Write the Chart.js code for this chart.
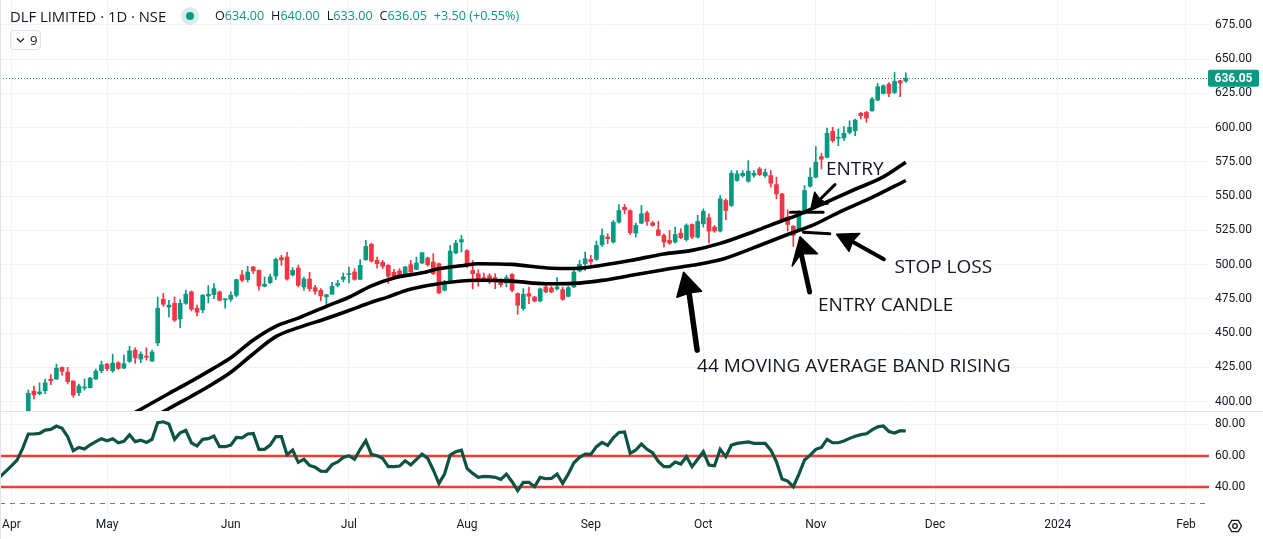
<!DOCTYPE html>
<html><head><meta charset="utf-8">
<script src="https://cdn.jsdelivr.net/npm/chart.js@4.4.1/dist/chart.umd.min.js"></script>
<style>
html,body{margin:0;padding:0;background:#fff;}
#wrap{position:relative;width:1263px;height:539px;overflow:hidden;font-family:'Open Sans',Roboto,sans-serif;color:#131722;}
#c{position:absolute;left:0;top:0;}
#title{position:absolute;left:10px;top:6px;font-size:14.8px;line-height:20px;white-space:nowrap;}
#dot{position:absolute;left:181px;top:7px;width:18px;height:18px;border-radius:50%;background:rgba(8,153,129,0.16);}
#dot span{position:absolute;left:5px;top:5px;width:8px;height:8px;border-radius:50%;background:#089981;}
#ohlc{position:absolute;left:215px;top:7px;font-size:12.6px;line-height:18px;white-space:nowrap;}
#ohlc .k{color:#131722;}
#ohlc .v{color:#089981;margin-right:7px;}
#ind{position:absolute;left:10px;top:30px;width:31px;height:20px;border:1px solid #e0e3eb;border-radius:4px;box-sizing:border-box;font-size:13px;line-height:18px;}
#ind svg{position:absolute;left:5px;top:6px;}
#ind span{position:absolute;left:19px;top:0px;}
</style></head>
<body>
<div id="wrap">
<canvas id="c" width="1263" height="539"></canvas>
<div id="title">DLF LIMITED · 1D · NSE</div>
<div id="dot"><span></span></div>
<div id="ohlc"></div>
<div id="ind"><svg width="9" height="7" viewBox="0 0 9 7"><path d="M1 1.5 L4.5 5 L8 1.5" fill="none" stroke="#131722" stroke-width="1.2"/></svg><span>9</span></div>
</div>
<script>
// ---------- DATA ----------
const firstIdx = 3; // trading-day index of first visible candle (Apr 3 = 0)
const opens = [
392,407.8,405.8,408.0,416.5,416.5,425.0,421.6,415.1,406.6,
410.0,410.2,416.5,422.6,427.4,422.6,428.4,424.5,429.4,437.6,
431.1,433.0,429.6,442.9,474.7,469.1,471.8,460.4,471.8,480.1,
468.2,467.0,477.1,478.2,480.1,474.3,474.7,477.7,492.5,489.1,
498.3,495.8,484.2,486.9,491.7,505.1,505.6,492.5,497.5,483.7,
489.5,483.2,481.3,476.5,478.4,484.9,489.3,492.7,494.6,489.3,
503.6,514.8,503.1,501.7,499.5,494.4,495.4,493.4,500.0,496.6,
501.2,504.8,501.9,500.7,481.3,488.1,508.5,516.5,510.2,495.8,
493.4,490.5,491.9,490.5,488.6,486.6,492.9,478.9,467.9,478.9,
476.4,473.5,483.7,483.0,482.3,481.8,476.9,483.7,495.4,500.7,
503.8,503.8,514.5,520.1,516.5,531.0,541.9,539.5,523.0,530.3,
537.8,530.5,525.4,521.3,517.7,516.5,523.0,518.2,529.3,520.1,
529.8,534.2,527.4,524.5,546.8,543.2,561.4,564.8,560.9,565.2,
569.8,564.8,565.0,558.4,551.6,534.7,527.9,525.4,538.3,557.2,
563.8,578.8,578.3,597.3,592.2,592.4,596.5,597.7,610.4,611.1,
612.3,620.1,624.9,631.7,625.6,634.2,634.0];
const highs = [
408.5,411.4,413.8,416.5,419.7,427.4,425.4,425.0,415.3,412.9,
416.5,417.8,423.8,429.6,427.9,434.7,429.1,434.0,440.5,439.3,
436.4,439.3,437.6,476.4,479.1,474.0,476.4,474.5,481.3,480.8,
470.4,478.2,484.7,486.1,480.8,475.2,480.1,489.5,495.8,498.8,
498.8,496.3,491.0,493.0,504.8,506.8,508.9,497.8,499.7,491.0,
494.4,484.9,482.5,478.4,487.1,488.6,493.9,498.3,497.1,503.6,
517.7,515.7,505.5,503.1,500.0,496.6,497.1,498.8,503.1,505.5,
509.0,505.5,508.0,501.2,488.6,514.0,517.7,521.3,510.9,503.1,
496.3,493.9,493.4,493.4,489.8,492.2,493.4,479.4,482.5,483.7,
476.9,483.0,484.9,484.2,490.5,483.7,484.2,495.8,503.1,509.2,
506.8,517.2,526.2,522.5,532.2,543.9,543.9,540.0,530.3,543.2,
539.0,531.7,531.5,522.5,525.0,527.4,526.2,529.8,529.8,536.0,
540.7,537.1,528.6,550.4,548.0,568.6,568.6,568.6,575.9,568.6,
571.1,569.8,568.6,563.8,552.1,540.0,528.6,539.5,557.7,570.6,
586.1,581.3,599.7,600.2,599.0,600.7,605.0,606.2,611.1,611.8,
622.0,632.2,631.2,632.9,640.2,634.6,640.0];
const lows = [
390,402.0,404.9,405.8,412.4,416.3,419.4,412.9,403.2,404.4,
408.5,410.0,416.3,421.1,422.6,421.4,423.6,424.0,428.7,427.9,
428.4,430.3,429.4,440.8,469.6,461.9,458.5,453.9,471.1,466.2,
462.6,464.8,472.1,475.2,473.5,468.2,473.3,476.5,487.4,487.4,
493.4,481.3,483.7,486.2,489.1,499.5,488.6,491.7,483.7,481.3,
480.6,478.4,473.5,470.4,478.4,483.7,487.4,486.6,488.6,489.1,
503.1,501.9,497.5,497.1,486.2,489.8,490.5,492.7,492.9,496.3,
500.7,498.8,492.7,478.9,480.8,487.4,508.0,509.2,497.8,482.3,
484.2,488.1,486.1,482.5,483.7,483.7,480.1,463.8,466.7,471.6,
472.8,472.8,479.4,479.4,481.3,474.0,476.4,483.2,494.6,495.8,
500.2,503.1,513.3,515.3,515.7,530.3,537.1,522.0,520.1,529.8,
528.6,527.9,521.1,512.8,514.8,515.7,518.9,517.2,518.9,519.3,
527.4,515.7,523.5,523.8,532.7,542.4,560.9,563.8,560.1,563.8,
565.0,563.8,556.5,548.0,531.0,524.5,513.3,524.5,536.6,556.5,
563.3,569.8,577.8,589.3,586.8,590.5,595.3,594.1,606.2,603.8,
611.8,619.6,624.4,622.5,624.9,622.5,633.0];
const closes = [
406.1,404.9,407.1,413.8,415.3,424.5,422.1,414.6,404.9,411.4,
410.7,417.2,422.3,426.9,424.0,428.2,424.3,427.7,437.1,432.0,
434.7,432.5,436.2,468.2,471.1,470.4,459.5,471.8,478.4,467.5,
465.3,477.7,478.4,482.5,474.0,474.7,477.7,489.0,488.6,494.6,
495.4,484.5,485.7,491.0,503.9,503.4,489.5,495.8,484.9,489.5,
482.5,480.6,477.2,478.0,484.2,486.2,491.0,493.4,489.3,499.5,
513.3,502.6,500.7,498.8,491.5,491.5,492.2,498.3,494.6,501.2,
508.7,500.0,493.4,479.4,487.4,509.9,515.7,518.3,499.2,493.4,
487.4,488.6,487.8,487.4,485.4,490.5,481.3,470.4,478.4,476.9,
473.5,482.3,480.1,480.1,483.7,474.7,483.2,494.6,500.2,504.3,
502.1,514.0,521.3,518.9,531.0,539.5,540.0,523.3,528.6,537.1,
531.5,528.6,521.3,516.5,515.7,522.0,519.6,528.6,520.1,531.5,
539.0,524.5,524.5,548.0,539.5,566.7,566.2,566.7,568.2,566.7,
565.7,567.4,559.4,551.6,532.2,529.3,521.3,535.9,554.1,563.8,
574.7,576.9,595.8,590.5,592.7,595.8,600.2,605.5,608.7,607.0,
620.8,629.8,630.5,624.9,633.7,632.55,636.05];

// 44 moving-average band (upper = highs, lower = lows)
const maHiIdx  = [18,23,28,32,36,39,43,47,51,56,60,64,68,73,76,80,83,89,96,100,105,110,116,121,126,132,137,140,144,150,155,159];
const maHiVals = [383,394.5,406,415,424.5,432,445,455,461,469.6,476.2,484.5,490.3,494,497,499.2,500.7,500.2,497.4,497.2,499.6,503,507.8,510.4,515.5,524.2,532,536.5,544,555,564,574.7];
const maLoIdx  = [23,28,32,36,39,43,47,51,56,60,64,67,70,74,80,83,89,95,100,105,110,116,121,126,132,138,143,147,153,159];
const maLoVals = [383,395,404,413.5,421.5,435,447.5,454,460.7,466.5,472.5,476.5,481,484.8,488.1,488.6,488,486,486.3,488.5,492,496.3,499.5,503.5,512.4,522,529.8,538,549,561.4];

// RSI, one value per trading day starting at index -2
const rsiFirstIdx = -2;
const rsiVals = [
46.6,50.0,53.5,57.2,64.7,
73.9,73.9,74.3,76.4,76.8,79.0,77.5,72.2,63.2,65.3,
64.3,67.0,69.0,70.9,69.6,70.9,68.3,69.2,73.4,69.0,
70.0,68.5,70.5,81.1,81.7,80.3,70.5,74.7,76.2,68.3,
66.2,70.5,70.9,72.6,65.8,65.8,66.8,71.7,71.5,73.9,
74.3,64.1,64.1,66.8,72.2,72.2,60.6,63.6,55.8,57.7,
53.8,52.6,50.2,50.0,54.3,56.0,58.9,60.0,57.7,64.1,
69.6,60.9,60.0,58.3,53.0,53.0,53.4,56.8,54.1,57.7,
61.1,58.3,50.9,42.3,48.3,60.4,62.6,63.6,51.9,48.7,
46.2,46.8,46.6,46.2,44.9,48.3,43.4,37.7,43.0,43.0,
40.2,46.2,45.3,45.5,48.3,42.3,48.3,55.5,59.0,61.1,
60.9,65.8,68.5,66.6,71.5,74.9,75.2,61.5,63.6,67.5,
64.1,61.9,56.4,53.0,53.0,56.0,54.7,59.4,53.0,57.7,
62.6,54.1,53.6,64.1,59.4,66.8,67.9,68.4,68.8,67.9,
67.9,67.9,63.6,56.2,45.1,43.8,40.2,48.3,57.3,60.4,
64.1,65.3,70.5,68.3,68.3,69.4,71.1,72.5,73.5,74.0,
76.5,78.5,79.0,75.5,74.5,76.0,75.8];
const rsiLevels = [60, 40, 30];

// axes
const monthTickIdx = [0,17,39,60,81,103,123,143,164.2,186,208.8];
const monthTickLabels = ['Apr','May','Jun','Jul','Aug','Sep','Oct','Nov','Dec','2024','Feb'];
const priceTicks = [400,425,450,475,500,525,550,575,600,625,650,675];
const rsiTicks = [40,60,80];
const xRange = [-2.03, 212.9];
const priceRange = [393.2, 693.1];
const rsiRange = [23.4, 88.6];

// annotations (in bar-index / price space)
const annotTexts = [
  {t:'ENTRY', i:144.8, p:569.1},
  {t:'STOP LOSS', i:157.0, p:497.6},
  {t:'ENTRY CANDLE', i:143.4, p:469.8},
  {t:'44 MOVING AVERAGE BAND RISING', i:121.9, p:425.3}
];
const annotLines = [
  {pts:[[146.4,558.4],[143.6,547.0]], w:3},
  {pts:[[138.5,538.3],[144.3,538.3]], w:3},
  {pts:[[140.8,523.7],[145.5,522.6]], w:3},
  {pts:[[149.6,516.5],[155.1,503.9]], w:4},
  {pts:[[120.5,478.5],[121.9,437.6]], w:5.5},
  {pts:[[140.4,508.0],[141.9,480.0]], w:5}
];
const annotHeads = [
  [[142.2,541.9],[142.8,552.8],[143.7,547.6],[145.2,544.4]],
  [[146.7,522.1],[150.8,522.8],[149.6,517.5],[148.9,509.7]],
  [[119.5,494.4],[118.3,476.2],[120.6,479.5],[122.7,480.6]],
  [[140.2,520.3],[138.8,499.0],[140.4,508.0],[143.3,508.0]]
];

// ---------- BUILD ----------
const GREEN = '#089981', RED = '#f23645';
const candleIdx = opens.map((_, k) => firstIdx + k);
const candleColors = candleIdx.map((_, k) => closes[k] >= opens[k] ? GREEN : RED);
const bodyData = candleIdx.map((x, k) => ({x, y: [opens[k], closes[k]]}));
const wickData = candleIdx.map((x, k) => ({x, y: [lows[k], highs[k]]}));
const maHiData = maHiIdx.map((x, k) => ({x, y: maHiVals[k]}));
const maLoData = maLoIdx.map((x, k) => ({x, y: maLoVals[k]}));
const rsiData = rsiVals.map((v, k) => ({x: rsiFirstIdx + k, y: v}));

const last = opens.length - 1;
const prevClose = closes[last - 1];
const chg = closes[last] - prevClose;
document.getElementById('ohlc').innerHTML =
  `<span class="k">O</span><span class="v">${opens[last].toFixed(2)}</span>` +
  `<span class="k">H</span><span class="v">${highs[last].toFixed(2)}</span>` +
  `<span class="k">L</span><span class="v">${lows[last].toFixed(2)}</span>` +
  `<span class="k">C</span><span class="v">${closes[last].toFixed(2)}</span>` +
  `<span class="v">${chg >= 0 ? '+' : ''}${chg.toFixed(2)} (${chg >= 0 ? '+' : ''}${(chg / prevClose * 100).toFixed(2)}%)</span>`;

Chart.defaults.font.family = 'Roboto, sans-serif';
Chart.defaults.font.size = 12;
Chart.defaults.color = '#131722';

const noPadV = s => { s.paddingTop = 0; s.paddingBottom = 0; };

const decor = {
  id: 'decor',
  beforeDatasetsDraw(chart) {
    const {ctx, scales: {x, y, y2}} = chart;
    ctx.save();
    ctx.beginPath(); ctx.rect(x.left, y2.top, x.width, y2.height); ctx.clip();
    rsiLevels.forEach((lv) => {
      const py = y2.getPixelForValue(lv);
      ctx.beginPath();
      if (lv === 30) { ctx.strokeStyle = '#787b86'; ctx.lineWidth = 1; ctx.setLineDash([5, 5]); }
      else { ctx.strokeStyle = '#f23c31'; ctx.lineWidth = 2.5; ctx.setLineDash([]); }
      ctx.moveTo(x.left, Math.round(py) + (lv === 30 ? 0.5 : 0));
      ctx.lineTo(x.right, Math.round(py) + (lv === 30 ? 0.5 : 0));
      ctx.stroke();
    });
    ctx.restore();
    // last price dotted line
    ctx.save();
    const py = Math.round(y.getPixelForValue(closes[last])) + 0.5;
    ctx.strokeStyle = GREEN; ctx.lineWidth = 1; ctx.setLineDash([1, 2]);
    ctx.beginPath(); ctx.moveTo(x.left, py); ctx.lineTo(x.right, py); ctx.stroke();
    ctx.restore();
  },
  afterDatasetsDraw(chart) {
    const {ctx, scales: {x, y, y2}} = chart;
    const X = v => x.getPixelForValue(v), Y = v => y.getPixelForValue(v);
    ctx.save();
    ctx.beginPath(); ctx.rect(x.left, y.top, x.width, y.height); ctx.clip();
    ctx.strokeStyle = '#000'; ctx.fillStyle = '#000';
    ctx.lineCap = 'round'; ctx.lineJoin = 'round';
    annotLines.forEach(l => {
      ctx.beginPath(); ctx.lineWidth = l.w;
      l.pts.forEach(([i, p], k) => k ? ctx.lineTo(X(i), Y(p)) : ctx.moveTo(X(i), Y(p)));
      ctx.stroke();
    });
    annotHeads.forEach(h => {
      ctx.beginPath(); ctx.lineWidth = 1.5;
      h.forEach(([i, p], k) => k ? ctx.lineTo(X(i), Y(p)) : ctx.moveTo(X(i), Y(p)));
      ctx.closePath(); ctx.fill(); ctx.stroke();
    });
    ctx.font = '19px "Open Sans", sans-serif';
    ctx.fillStyle = '#131722'; ctx.textBaseline = 'middle'; ctx.textAlign = 'left';
    annotTexts.forEach(a => ctx.fillText(a.t, X(a.i), Y(a.p)));
    ctx.restore();
    // pane separator
    ctx.save();
    ctx.fillStyle = '#e0e3eb';
    ctx.fillRect(0, Math.round(y.bottom), chart.width, 1);
    ctx.fillRect(0, 0, 1, chart.height);
    // last price label
    const py = y.getPixelForValue(closes[last]);
    ctx.fillStyle = GREEN;
    ctx.beginPath();
    if (ctx.roundRect) ctx.roundRect(x.right - 1, py - 8.5, 51, 17, 2); else ctx.rect(x.right - 1, py - 8.5, 51, 17);
    ctx.fill();
    ctx.fillStyle = '#fff'; ctx.font = 'bold 12px Roboto, sans-serif';
    ctx.textAlign = 'center'; ctx.textBaseline = 'middle';
    ctx.fillText(closes[last].toFixed(2), x.right + 24.5, py + 0.5);
    // settings icon
    const gx = x.right + 26, gy = 526;
    ctx.strokeStyle = '#131722'; ctx.lineWidth = 1.3;
    ctx.beginPath();
    for (let k = 0; k < 6; k++) {
      const a = Math.PI / 3 * k;
      const px = gx + 6.5 * Math.cos(a), pyy = gy + 6.5 * Math.sin(a);
      k ? ctx.lineTo(px, pyy) : ctx.moveTo(px, pyy);
    }
    ctx.closePath(); ctx.stroke();
    ctx.beginPath(); ctx.arc(gx, gy, 2.3, 0, Math.PI * 2); ctx.stroke();
    ctx.restore();
  }
};

new Chart(document.getElementById('c'), {
  type: 'bar',
  data: {
    datasets: [
      {type: 'line', data: maHiData, yAxisID: 'y', borderColor: '#000', borderWidth: 3.6, pointRadius: 0, cubicInterpolationMode: 'monotone', order: 0, clip: 0},
      {type: 'line', data: maLoData, yAxisID: 'y', borderColor: '#000', borderWidth: 3.6, pointRadius: 0, cubicInterpolationMode: 'monotone', order: 0, clip: 0},
      {type: 'line', data: rsiData, yAxisID: 'y2', borderColor: '#0d5343', borderWidth: 3.2, pointRadius: 0, tension: 0, order: 0, clip: 0},
      {type: 'bar', data: wickData, yAxisID: 'y', backgroundColor: candleColors, barThickness: 1, grouped: false, order: 3, clip: 0},
      {type: 'bar', data: bodyData, yAxisID: 'y', backgroundColor: candleColors, barThickness: 4, minBarLength: 1, grouped: false, order: 2, clip: 0}
    ]
  },
  options: {
    responsive: false, animation: false, devicePixelRatio: 1,
    layout: {padding: 0},
    plugins: {legend: {display: false}, tooltip: {enabled: false}},
    scales: {
      x: {
        type: 'linear', min: xRange[0], max: xRange[1], offset: false, position: 'bottom',
        grid: {color: '#f0f3fa', drawTicks: false, offset: false},
        border: {display: false},
        afterBuildTicks: s => { s.ticks = monthTickIdx.map(v => ({value: v})); },
        afterFit: s => { s.height = 26; s.paddingLeft = 0; s.paddingRight = 0; },
        ticks: {padding: 5, autoSkip: false, maxRotation: 0, color: '#131722', font: {size: 12},
          callback: (v, k) => monthTickLabels[k]}
      },
      y: {
        type: 'linear', position: 'right', stack: 'panes', stackWeight: 411,
        min: priceRange[0], max: priceRange[1],
        grid: {color: '#f0f3fa', drawTicks: false},
        border: {display: false},
        afterBuildTicks: s => { s.ticks = priceTicks.map(v => ({value: v})); },
        afterFit: s => { s.width = 54; noPadV(s); },
        ticks: {padding: 6, color: '#131722', font: {size: 12}, callback: v => Number(v).toFixed(2)}
      },
      y2: {
        type: 'linear', position: 'right', stack: 'panes', stackWeight: 102,
        min: rsiRange[0], max: rsiRange[1],
        grid: {color: '#f0f3fa', drawTicks: false},
        border: {display: false},
        afterBuildTicks: s => { s.ticks = rsiTicks.map(v => ({value: v})); },
        afterFit: s => { s.width = 54; noPadV(s); },
        ticks: {padding: 6, color: '#131722', font: {size: 12}, callback: v => Number(v).toFixed(2)}
      }
    }
  },
  plugins: [decor]
});
</script>
</body></html>
